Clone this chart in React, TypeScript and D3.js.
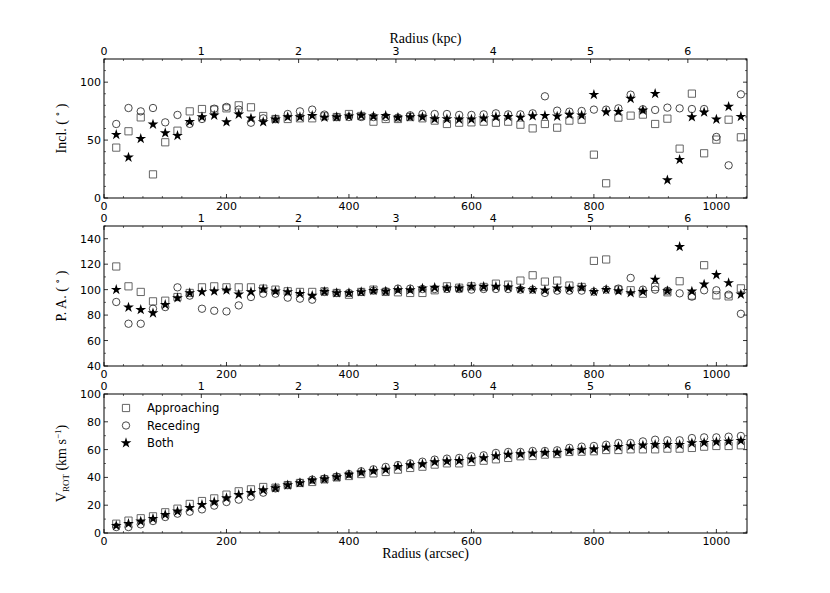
import React from 'react';
import * as d3 from 'd3';

// radius of each ring, arcsec
const radii = [
  20, 40, 60, 80, 100, 120, 140, 160, 180, 200, 220, 240, 260, 280, 300, 320, 340, 360,
  380, 400, 420, 440, 460, 480, 500, 520, 540, 560, 580, 600, 620, 640, 660, 680, 700, 720,
  740, 760, 780, 800, 820, 840, 860, 880, 900, 920, 940, 960, 980, 1000, 1020, 1040,
];

const inclApproaching = [
  43.5, 57.6, 69.6, 20.4, 48.1, 58.1, 74.8, 76.8, 76.3, 77.4, 80.0, 78.3, 70.8, 68.2, 68.2, 68.8, 68.8, 70.5,
  69.9, 72.5, 70.8, 65.9, 68.2, 68.2, 69.9, 68.8, 66.8, 63.9, 65.0, 65.3, 65.9, 65.0, 65.9, 63.3, 60.1, 63.9,
  60.7, 66.8, 67.6, 37.4, 12.7, 69.4, 71.1, 72.0, 63.9, 68.5, 42.6, 90.1, 38.6, 50.4, 67.6, 52.4,
];
const inclReceding = [
  63.9, 77.7, 74.8, 77.7, 65.3, 71.7, 64.0, 68.2, 77.1, 78.6, 76.3, 65.0, 68.8, 68.2, 72.5, 74.8, 76.3, 72.0,
  69.9, 69.9, 69.9, 69.9, 69.9, 69.4, 71.4, 72.5, 72.5, 72.5, 71.7, 71.7, 72.2, 73.1, 72.2, 72.2, 73.1, 87.8,
  75.4, 74.5, 75.1, 76.3, 76.3, 77.4, 89.2, 76.6, 76.0, 78.0, 77.4, 76.8, 76.8, 52.7, 28.2, 89.5,
];
const inclBoth = [
  54.7, 35.1, 51.2, 63.6, 56.1, 53.8, 65.9, 69.9, 71.4, 65.6, 72.2, 68.8, 65.6, 67.9, 69.9, 69.9, 71.1, 69.6,
  69.9, 70.5, 71.4, 70.5, 71.1, 69.4, 69.9, 69.9, 68.2, 68.2, 67.9, 67.9, 68.8, 69.9, 70.2, 69.6, 70.8, 71.1,
  70.5, 72.0, 71.4, 89.2, 74.3, 74.5, 85.8, 75.7, 90.1, 15.5, 33.1, 69.9, 74.0, 67.9, 78.9, 70.2,
];

const paApproaching = [
  118.2, 102.6, 98.2, 90.8, 91.3, 94.2, 97.4, 101.8, 102.6, 101.8, 101.8, 101.8, 100.8, 100.0, 98.7, 98.2, 98.2, 98.7,
  97.4, 96.0, 98.2, 100.0, 98.2, 97.9, 97.4, 97.4, 99.5, 102.6, 101.5, 102.6, 102.1, 104.7, 103.9, 107.1, 111.3, 106.3,
  107.1, 103.2, 102.1, 122.6, 123.7, 100.0, 99.5, 96.8, 102.1, 97.9, 106.6, 95.3, 119.2, 95.5, 94.7, 101.0,
];
const paReceding = [
  90.3, 73.2, 73.2, 85.0, 86.3, 101.8, 95.3, 85.0, 83.4, 82.9, 87.6, 94.2, 96.8, 96.8, 93.7, 92.9, 92.1, 98.2,
  97.4, 97.4, 98.2, 99.2, 98.7, 100.8, 100.8, 100.5, 100.5, 100.5, 100.5, 100.0, 100.5, 100.5, 100.5, 100.0, 100.0, 97.4,
  99.2, 99.2, 99.2, 98.4, 100.0, 100.8, 109.2, 100.0, 100.0, 99.2, 97.1, 94.5, 99.5, 99.5, 96.0, 81.0,
];
const paBoth = [
  100.0, 86.1, 84.2, 81.6, 88.2, 93.4, 97.4, 98.2, 98.7, 99.5, 96.3, 98.2, 100.3, 98.7, 98.2, 96.8, 95.3, 98.4,
  97.4, 97.4, 98.2, 99.2, 98.7, 99.7, 99.7, 101.0, 101.6, 101.0, 101.0, 102.4, 102.4, 102.4, 101.8, 100.5, 100.0, 99.5,
  101.0, 100.8, 101.8, 98.4, 100.0, 98.9, 97.4, 98.4, 107.9, 99.0, 133.7, 98.7, 104.2, 111.6, 105.3, 96.3,
];

const vrotApproaching = [
  6.7, 8.9, 10.6, 12.0, 14.9, 17.5, 20.9, 23.0, 24.9, 27.6, 30.0, 31.4, 33.1, 32.6, 34.5, 36.0, 36.7, 38.6,
  40.0, 41.0, 42.4, 42.9, 43.9, 45.6, 46.8, 47.7, 49.2, 50.1, 50.1, 51.1, 52.0, 53.0, 54.0, 55.2, 55.4, 56.4,
  56.8, 58.3, 58.5, 58.8, 59.7, 59.7, 60.2, 60.2, 60.2, 60.7, 60.7, 61.2, 62.1, 62.6, 62.6, 63.1,
];
const vrotReceding = [
  4.3, 4.3, 6.2, 8.6, 11.5, 13.9, 15.3, 17.0, 19.7, 22.3, 24.0, 26.1, 29.0, 32.1, 34.5, 36.2, 38.4, 39.1,
  40.5, 42.4, 44.4, 45.8, 47.5, 48.9, 50.1, 51.3, 52.8, 53.5, 54.0, 55.2, 55.9, 57.6, 58.3, 58.3, 59.0, 59.0,
  59.5, 61.2, 62.1, 62.6, 63.5, 64.7, 64.7, 65.9, 67.1, 66.7, 66.7, 68.3, 68.8, 68.8, 69.3, 69.8,
];
const vrotBoth = [
  5.3, 6.7, 8.4, 10.3, 13.2, 15.6, 18.2, 20.4, 22.3, 25.2, 27.6, 29.0, 30.9, 32.4, 34.5, 36.0, 37.9, 38.8,
  40.3, 42.0, 43.6, 44.6, 45.6, 47.7, 48.9, 49.6, 51.1, 51.6, 52.0, 53.0, 54.0, 55.4, 56.4, 56.8, 57.3, 57.8,
  57.8, 59.2, 59.7, 60.2, 61.6, 62.1, 62.6, 63.1, 63.5, 63.5, 63.5, 64.7, 65.0, 65.5, 65.9, 66.4,
];

const arcsecTicks = [0, 200, 400, 600, 800, 1000];
const kpcTicks = [0, 1, 2, 3, 4, 5, 6];
const arcsecPerKpc = 158.9;

const inclTicks = [0, 50, 100];
const paTicks = [40, 60, 80, 100, 120, 140];
const vrotTicks = [0, 20, 40, 60, 80, 100];

const legendLabels = ['Approaching', 'Receding', 'Both'];

const W = 830;
const H = 593;
const left = 104;
const right = 747;

const tickFont = '"DejaVu Sans", sans-serif';
const labelFont = '"Liberation Serif", "DejaVu Serif", serif';

const starPath = d3.symbol(d3.symbolStar, 36)()!;
const squarePath = d3.symbol(d3.symbolSquare, 52)()!;

type PanelProps = {
  top: number;
  bottom: number;
  domain: [number, number];
  yTicks: number[];
  yMinorStep: number;
  approaching: number[];
  receding: number[];
  both: number[];
  ylabel: React.ReactNode;
  showKpcTitle?: boolean;
  showLegend?: boolean;
};

const x = d3.scaleLinear().domain([0, 1050]).range([left, right]);
const xKpc = d3.scaleLinear().domain([0, 1050 / arcsecPerKpc]).range([left, right]);

function Marker({ kind, cx, cy }: { kind: number; cx: number; cy: number }) {
  if (kind === 0)
    return <path d={squarePath} transform={`translate(${cx},${cy})`} fill="none" stroke="#555" strokeWidth={0.9} />;
  if (kind === 1) return <circle cx={cx} cy={cy} r={3.7} fill="none" stroke="#333" strokeWidth={0.9} />;
  return <path d={starPath} transform={`translate(${cx},${cy})`} fill="#000" />;
}

function Panel(p: PanelProps) {
  const y = d3.scaleLinear().domain(p.domain).range([p.bottom, p.top]);
  const yMinor = d3.range(p.domain[0], p.domain[1] + 0.001, p.yMinorStep).filter(v => !p.yTicks.includes(v));
  const kpcMinor = d3.range(0, 6.61, 0.2).filter(v => Math.abs(v - Math.round(v)) > 0.01);
  const series = [p.approaching, p.receding, p.both];
  const midY = (p.top + p.bottom) / 2;

  return (
    <g>
      {/* ticks, inward */}
      {arcsecTicks.map(t => (
        <g key={'xb' + t}>
          <line x1={x(t)} x2={x(t)} y1={p.bottom} y2={p.bottom - 4} stroke="#000" strokeWidth={0.8} />
          <text x={x(t)} y={p.bottom + 12} textAnchor="middle" fontFamily={tickFont} fontSize={11}>{t}</text>
        </g>
      ))}
      {kpcMinor.map(t => (
        <g key={'km' + t}>
          <line x1={xKpc(t)} x2={xKpc(t)} y1={p.bottom} y2={p.bottom - 2} stroke="#000" strokeWidth={0.6} />
          <line x1={xKpc(t)} x2={xKpc(t)} y1={p.top} y2={p.top + 2} stroke="#000" strokeWidth={0.6} />
        </g>
      ))}
      {kpcTicks.map(t => (
        <g key={'xt' + t}>
          <line x1={xKpc(t)} x2={xKpc(t)} y1={p.top} y2={p.top + 4} stroke="#000" strokeWidth={0.8} />
          <text x={xKpc(t)} y={p.top - 4} textAnchor="middle" fontFamily={tickFont} fontSize={11}>{t}</text>
        </g>
      ))}
      {p.yTicks.map(t => (
        <g key={'y' + t}>
          <line x1={left} x2={left + 4} y1={y(t)} y2={y(t)} stroke="#000" strokeWidth={0.8} />
          <line x1={right} x2={right - 4} y1={y(t)} y2={y(t)} stroke="#000" strokeWidth={0.8} />
          <text x={left - 3} y={y(t) + 4} textAnchor="end" fontFamily={tickFont} fontSize={11}>{t}</text>
        </g>
      ))}
      {yMinor.map(t => (
        <g key={'ym' + t}>
          <line x1={left} x2={left + 2} y1={y(t)} y2={y(t)} stroke="#000" strokeWidth={0.6} />
          <line x1={right} x2={right - 2} y1={y(t)} y2={y(t)} stroke="#000" strokeWidth={0.6} />
        </g>
      ))}

      {series.map((vals, k) => (
        <g key={'s' + k}>
          {radii.map((r, i) => (
            <Marker key={i} kind={k} cx={x(r)} cy={y(vals[i])} />
          ))}
        </g>
      ))}

      <rect x={left} y={p.top} width={right - left} height={p.bottom - p.top} fill="none" stroke="#000" strokeWidth={1} />

      <text
        transform={`translate(${left - 38},${midY}) rotate(-90)`}
        textAnchor="middle"
        fontFamily={labelFont}
        fontSize={14}
      >
        {p.ylabel}
      </text>

      {p.showKpcTitle && (
        <text x={(left + right) / 2} y={p.top - 16} textAnchor="middle" fontFamily={labelFont} fontSize={14}>
          Radius (kpc)
        </text>
      )}

      {p.showLegend && (
        <g>
          {legendLabels.map((lab, k) => (
            <g key={lab}>
              <Marker kind={k} cx={126} cy={p.top + 14 + k * 17.5} />
              <text x={147} y={p.top + 18 + k * 17.5} fontFamily={tickFont} fontSize={11.5}>{lab}</text>
            </g>
          ))}
        </g>
      )}
    </g>
  );
}

export default function App() {
  return (
    <svg width={W} height={H} style={{ position: 'absolute', left: 0, top: 0, background: '#fff' }}>
      <Panel
        top={59}
        bottom={198}
        domain={[0, 120]}
        yTicks={inclTicks}
        yMinorStep={10}
        approaching={inclApproaching}
        receding={inclReceding}
        both={inclBoth}
        ylabel={<>Incl. ( <tspan dy={-5} fontSize={10}>∘</tspan><tspan dy={5}> )</tspan></>}
        showKpcTitle
      />
      <Panel
        top={226}
        bottom={366}
        domain={[40, 150]}
        yTicks={paTicks}
        yMinorStep={10}
        approaching={paApproaching}
        receding={paReceding}
        both={paBoth}
        ylabel={<>P. A. ( <tspan dy={-5} fontSize={10}>∘</tspan><tspan dy={5}> )</tspan></>}
      />
      <Panel
        top={394}
        bottom={533}
        domain={[0, 100]}
        yTicks={vrotTicks}
        yMinorStep={10}
        approaching={vrotApproaching}
        receding={vrotReceding}
        both={vrotBoth}
        ylabel={
          <>
            V<tspan dy={3} fontSize={9}>ROT</tspan>
            <tspan dy={-3}> (km s</tspan>
            <tspan dy={-5} fontSize={9}>−1</tspan>
            <tspan dy={5}>)</tspan>
          </>
        }
        showLegend
      />
      <text x={(left + right) / 2} y={558} textAnchor="middle" fontFamily={labelFont} fontSize={14}>
        Radius (arcsec)
      </text>
    </svg>
  );
}
